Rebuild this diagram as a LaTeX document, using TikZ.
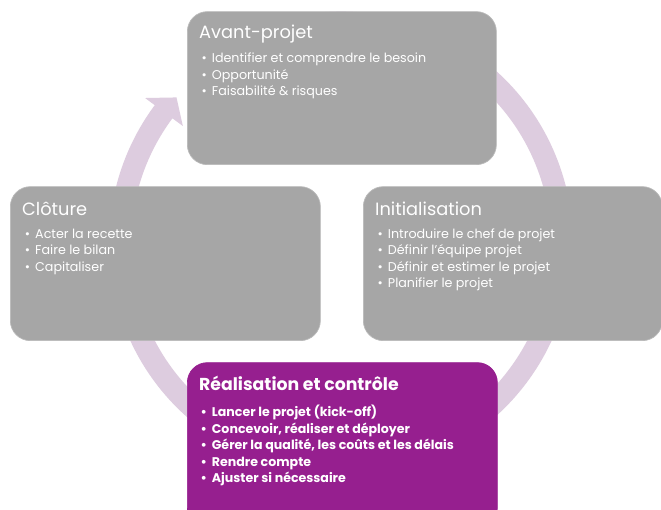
\documentclass[tikz,border=0pt]{standalone}
\usepackage{fontspec}
\setmainfont{Poppins}
\usetikzlibrary{calc}
\definecolor{boxgray}{RGB}{166,166,166}
\definecolor{boxpurple}{RGB}{150,31,143}
\definecolor{ringc}{RGB}{221,204,223}
\definecolor{edgec}{RGB}{186,186,186}
\begin{document}
\begin{tikzpicture}[x=1pt,y=1pt,
  stagebox/.style={rounded corners=20pt, inner sep=0pt, anchor=south west, draw=edgec, line width=0.7pt},
  graybox/.style={stagebox, fill=boxgray},
  purplebox/.style={stagebox, fill=boxpurple, draw=boxpurple},
  ttl/.style={anchor=base west, inner sep=0pt, text=white, font=\fontsize{17.8}{17.8}\selectfont},
  itm/.style={anchor=base west, inner sep=0pt, text=white, font=\fontsize{12.7}{12.7}\selectfont},
  bttl/.style={anchor=base west, inner sep=0pt, text=white, font=\bfseries\fontsize{17.3}{17.3}\selectfont},
  bitm/.style={anchor=base west, inner sep=0pt, text=white, font=\bfseries\fontsize{12.6}{12.6}\selectfont}]
\useasboundingbox (0,0) rectangle (661,510);
\clip (0,0) rectangle (661,510);
\fill[white] (0,0) rectangle (661,510);
% cycle ring arrow
\coordinate (c) at (341,266.5);
\fill[ringc] ($(c)+(105:232pt)$) arc[start angle=105, end angle=-216.6, radius=232pt]
  -- ($(c)+(-216.6:244pt)$) -- ($(c)+(-221.6:220pt)$) -- ($(c)+(-216.6:197pt)$)
  -- ($(c)+(-216.6:210pt)$) arc[start angle=-216.6, end angle=105, radius=210pt] -- cycle;
% boxes
\node[graybox, minimum width=309pt, minimum height=153pt] (avant) at (187,345) {};
\node[graybox, minimum width=310pt, minimum height=154pt] (cloture) at (10,169) {};
\node[graybox, minimum width=299pt, minimum height=154pt] (init) at (363,169) {};
\node[purplebox, minimum width=310pt, minimum height=165pt] (real) at (187,-18) {};
% Avant-projet
\node[ttl] (a0) at (199,471.5) {Avant-projet};
\node[itm] (a1) at (211.7,447.3) {\llap{•\hspace{5pt}}Identifier et comprendre le besoin};
\node[itm] (a2) at (211.7,430.8) {\llap{•\hspace{5pt}}Opportunité};
\node[itm] (a3) at (211.7,414.3) {\llap{•\hspace{5pt}}Faisabilité \& risques};
% Cloture
\node[ttl] (b0) at (22,294.5) {Clôture};
\node[itm] (b1) at (35,271.7) {\llap{•\hspace{5pt}}Acter la recette};
\node[itm] (b2) at (35,255.2) {\llap{•\hspace{5pt}}Faire le bilan};
\node[itm] (b3) at (35,238.7) {\llap{•\hspace{5pt}}Capitaliser};
% Initialisation
\node[ttl] (i0) at (375,294.5) {Initialisation};
\node[itm] (i1) at (387.7,271.7) {\llap{•\hspace{5pt}}Introduire le chef de projet};
\node[itm] (i2) at (387.7,255.2) {\llap{•\hspace{5pt}}Définir l’équipe projet};
\node[itm] (i3) at (387.7,238.7) {\llap{•\hspace{5pt}}Définir et estimer le projet};
\node[itm] (i4) at (387.7,222.2) {\llap{•\hspace{5pt}}Planifier le projet};
% Realisation
\node[bttl] (r0) at (199,119) {Réalisation et contrôle};
\node[bitm] (r1) at (211.7,93.3) {\llap{•\hspace{5pt}}Lancer le projet (kick-off)};
\node[bitm] (r2) at (211.7,76.8) {\llap{•\hspace{5pt}}Concevoir, réaliser et déployer};
\node[bitm] (r3) at (211.7,60.3) {\llap{•\hspace{5pt}}Gérer la qualité, les coûts et les délais};
\node[bitm] (r4) at (211.7,43.8) {\llap{•\hspace{5pt}}Rendre compte};
\node[bitm] (r5) at (211.7,27.3) {\llap{•\hspace{5pt}}Ajuster si nécessaire};
\end{tikzpicture}
\end{document}
